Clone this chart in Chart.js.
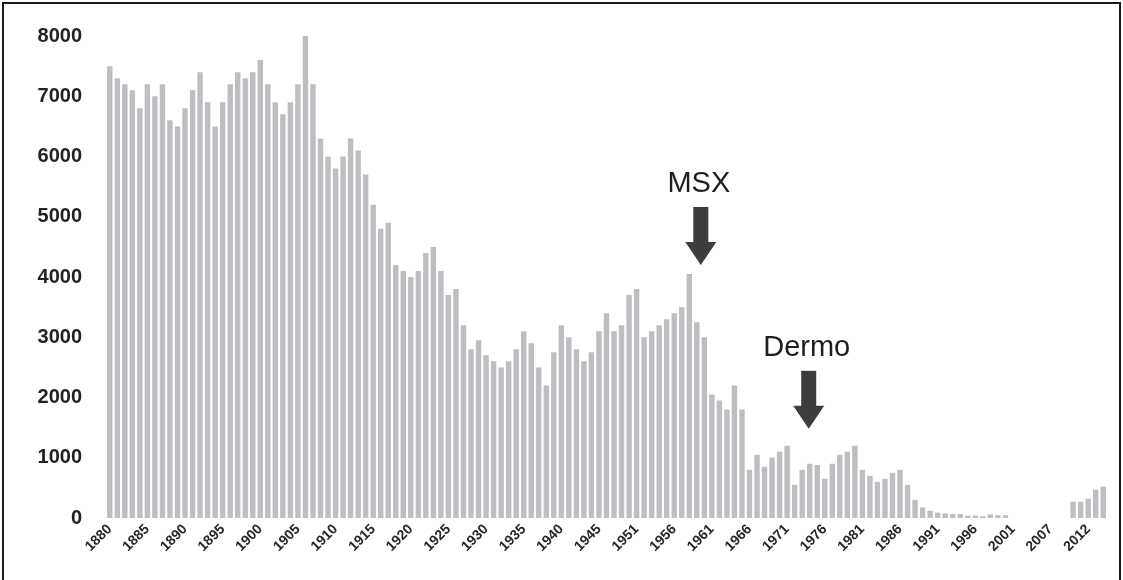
<!DOCTYPE html>
<html>
<head>
<meta charset="utf-8">
<script src="https://cdn.jsdelivr.net/npm/chart.js@4.4.1/dist/chart.umd.min.js"></script>
<style>
  html, body { margin: 0; padding: 0; background: #fff; }
  #wrap { width: 1123px; height: 580px; }
</style>
</head>
<body>
<div id="wrap"><canvas id="harvestChart" width="1123" height="580"></canvas></div>
<script>
// years on the category axis (two years are absent from the record)
const skippedYears = [1948, 2004];
const years = [];
for (let yr = 1880; yr <= 2014; yr++) {
  if (!skippedYears.includes(yr)) years.push(String(yr));
}

// one value per year (null = no data)
const harvest = [
  7500, 7300, 7200, 7100, 6800, 7200, 7000, 7200, 6600, 6500,   // 1880-1889
  6800, 7100, 7400, 6900, 6500, 6900, 7200, 7400, 7300, 7400,   // 1890-1899
  7600, 7200, 6900, 6700, 6900, 7200, 8000, 7200, 6300, 6000,   // 1900-1909
  5800, 6000, 6300, 6100, 5700, 5200, 4800, 4900, 4200, 4100,   // 1910-1919
  4000, 4100, 4400, 4500, 4100, 3700, 3800, 3200, 2800, 2950,   // 1920-1929
  2700, 2600, 2500, 2600, 2800, 3100, 2900, 2500, 2200, 2750,   // 1930-1939
  3200, 3000, 2800, 2600, 2750, 3100, 3400, 3100,               // 1940-1947
  3200, 3700,                                                   // 1949-1950
  3800, 3000, 3100, 3200, 3300, 3400, 3500, 4050, 3250, 3000,   // 1951-1960
  2050, 1950, 1800, 2200, 1800, 800, 1050, 850, 1000, 1100,     // 1961-1970
  1200, 550, 800, 900, 880, 650, 900, 1050, 1100, 1200,         // 1971-1980
  800, 700, 600, 650, 750, 800, 550, 300, 175, 120,             // 1981-1990
  90, 75, 65, 65, 40, 40, 30, 60, 45, 45,                       // 1991-2000
  null, null, null, null, null, null, null, null,               // 2001-2009
  270, 270, 320, 470, 520                                       // 2010-2014
];

const yTicks = [0, 1000, 2000, 3000, 4000, 5000, 6000, 7000, 8000];

// arrow call-outs: which year they point at and the value level of the tip
const callouts = [
  { text: 'MSX', year: '1959', tip: 4200, dx: 4 },
  { text: 'Dermo', year: '1974', tip: 1480, dx: -1 }
];

const calloutPlugin = {
  id: 'callouts',
  afterDatasetsDraw(chart) {
    const { ctx } = chart;
    const xs = chart.scales.x, ys = chart.scales.y;
    ctx.save();
    callouts.forEach(c => {
      const cx = xs.getPixelForValue(years.indexOf(c.year)) + c.dx;
      const tipY = ys.getPixelForValue(c.tip);
      const headTop = tipY - 23;
      const shaftTop = headTop - 35;
      ctx.fillStyle = '#3d3d3d';
      ctx.fillRect(cx - 7.5, shaftTop, 15, headTop - shaftTop + 1);
      ctx.beginPath();
      ctx.moveTo(cx - 15.5, headTop);
      ctx.lineTo(cx + 15.5, headTop);
      ctx.lineTo(cx, tipY);
      ctx.closePath();
      ctx.fill();
      ctx.fillStyle = '#1e1e1e';
      ctx.font = '29px "Liberation Sans", Arial, sans-serif';
      ctx.textAlign = 'center';
      ctx.textBaseline = 'middle';
      ctx.fillText(c.text, cx - 2, shaftTop - 23);
    });
    ctx.restore();
  }
};

const framePlugin = {
  id: 'frame',
  afterDraw(chart) {
    const { ctx, width, height } = chart;
    ctx.save();
    ctx.strokeStyle = '#1a1a1a';
    ctx.lineWidth = 2;
    ctx.beginPath();
    ctx.moveTo(3, height);
    ctx.lineTo(3, 3);
    ctx.lineTo(width - 3, 3);
    ctx.lineTo(width - 3, height);
    ctx.stroke();
    ctx.restore();
  }
};

new Chart(document.getElementById('harvestChart'), {
  type: 'bar',
  data: {
    labels: years,
    datasets: [{
      data: harvest,
      backgroundColor: '#bdbec1',
      borderWidth: 0,
      categoryPercentage: 1,
      barPercentage: 0.72
    }]
  },
  options: {
    responsive: false,
    animation: false,
    layout: { padding: { top: 32, right: 16, bottom: 0, left: 0 } },
    plugins: {
      legend: { display: false },
      tooltip: { enabled: false }
    },
    scales: {
      x: {
        grid: { display: false, drawTicks: false },
        border: { display: false },
        afterFit(scale) { scale.height = 62; },
        ticks: {
          autoSkip: false,
          minRotation: 45,
          maxRotation: 45,
          padding: 3,
          color: '#262626',
          font: { family: '"Liberation Sans", Arial, sans-serif', size: 14, weight: 'bold' },
          callback: function (val, idx) {
            return idx % 5 === 0 ? this.getLabelForValue(val) : '';
          }
        }
      },
      y: {
        min: 0,
        max: 8000,
        grid: { display: false, drawTicks: false },
        border: { display: false },
        afterFit(scale) { scale.width = 106; },
        afterBuildTicks(scale) { scale.ticks = yTicks.map(v => ({ value: v })); },
        ticks: {
          padding: 24,
          color: '#222',
          font: { family: '"Liberation Sans", Arial, sans-serif', size: 20, weight: 'bold' },
          callback: v => String(v)
        }
      }
    }
  },
  plugins: [calloutPlugin, framePlugin]
});
</script>
</body>
</html>
